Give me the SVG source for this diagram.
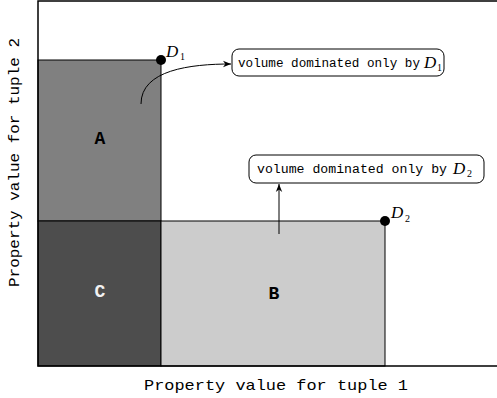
<svg xmlns="http://www.w3.org/2000/svg" width="497" height="398" viewBox="0 0 497 398">
<defs>
<style>
.ax{fill:none;stroke:#000;stroke-width:1.5}
.reg{stroke:#000;stroke-width:1}
.lbl{font-family:"Liberation Mono","DejaVu Sans Mono",monospace;font-size:18px;font-weight:bold;text-anchor:middle}
.axl{font-family:"Liberation Mono","DejaVu Sans Mono",monospace;font-size:15px;fill:#000}
.note{font-family:"Liberation Mono","DejaVu Sans Mono",monospace;font-size:12px;fill:#000}
.cal{font-family:"Liberation Serif","DejaVu Serif",serif;font-style:italic;font-size:17px;fill:#000}
.sub{font-family:"Liberation Serif","DejaVu Serif",serif;font-size:10px;fill:#000}
.box{fill:#fff;stroke:#000;stroke-width:1}
.con{fill:none;stroke:#000;stroke-width:1}
</style>
<marker id="arr" viewBox="0 0 10 10" refX="10" refY="5" markerWidth="8" markerHeight="8" markerUnits="userSpaceOnUse" orient="auto">
<path d="M0,1 L10,5 L0,9 L3,5 Z" fill="#000"/>
</marker>
</defs>
<rect width="497" height="398" fill="#fff"/>
<g id="regionA"><rect class="reg" x="38" y="60" width="123" height="161" fill="#808080"/><text class="lbl" x="100" y="144">A</text></g>
<g id="regionC"><rect class="reg" x="38" y="221" width="123" height="145" fill="#4d4d4d"/><text class="lbl" x="100" y="297" fill="#f2f2f2">C</text></g>
<g id="regionB"><rect class="reg" x="161" y="221" width="224" height="145" fill="#cccccc"/><text class="lbl" x="274" y="299">B</text></g>
<g id="axes">
<path class="ax" d="M497,1 H38 V366 H497"/>
<text class="axl" x="144" y="390" textLength="264" lengthAdjust="spacingAndGlyphs">Property value for tuple 1</text>
<text class="axl" transform="translate(19,287) rotate(-90)" x="0" y="0" textLength="249" lengthAdjust="spacingAndGlyphs">Property value for tuple 2</text>
</g>
<g id="D1"><circle cx="161" cy="60" r="5" fill="#000"/><text class="cal" x="166" y="57">D</text><text class="sub" x="180" y="60">1</text></g>
<g id="D2"><circle cx="385" cy="221" r="5" fill="#000"/><text class="cal" x="391" y="218">D</text><text class="sub" x="405" y="222">2</text></g>
<g id="note1"><rect class="box" x="232" y="49" width="212" height="27" rx="7"/><text class="note" x="238" y="67" textLength="182" lengthAdjust="spacingAndGlyphs">volume dominated only by</text><text class="cal" x="424" y="68">D</text><text class="sub" x="437" y="71">1</text></g>
<g id="note2"><rect class="box" x="249" y="155" width="235" height="28" rx="7"/><text class="note" x="257" y="173" textLength="190" lengthAdjust="spacingAndGlyphs">volume dominated only by</text><text class="cal" x="453" y="174">D</text><text class="sub" x="467" y="177">2</text></g>
<g id="connectors">
<path class="con" d="M141,104 C141,70 190,64 231,64" marker-end="url(#arr)"/>
<path class="con" d="M279,234 V184" marker-end="url(#arr)"/>
</g>
</svg>
